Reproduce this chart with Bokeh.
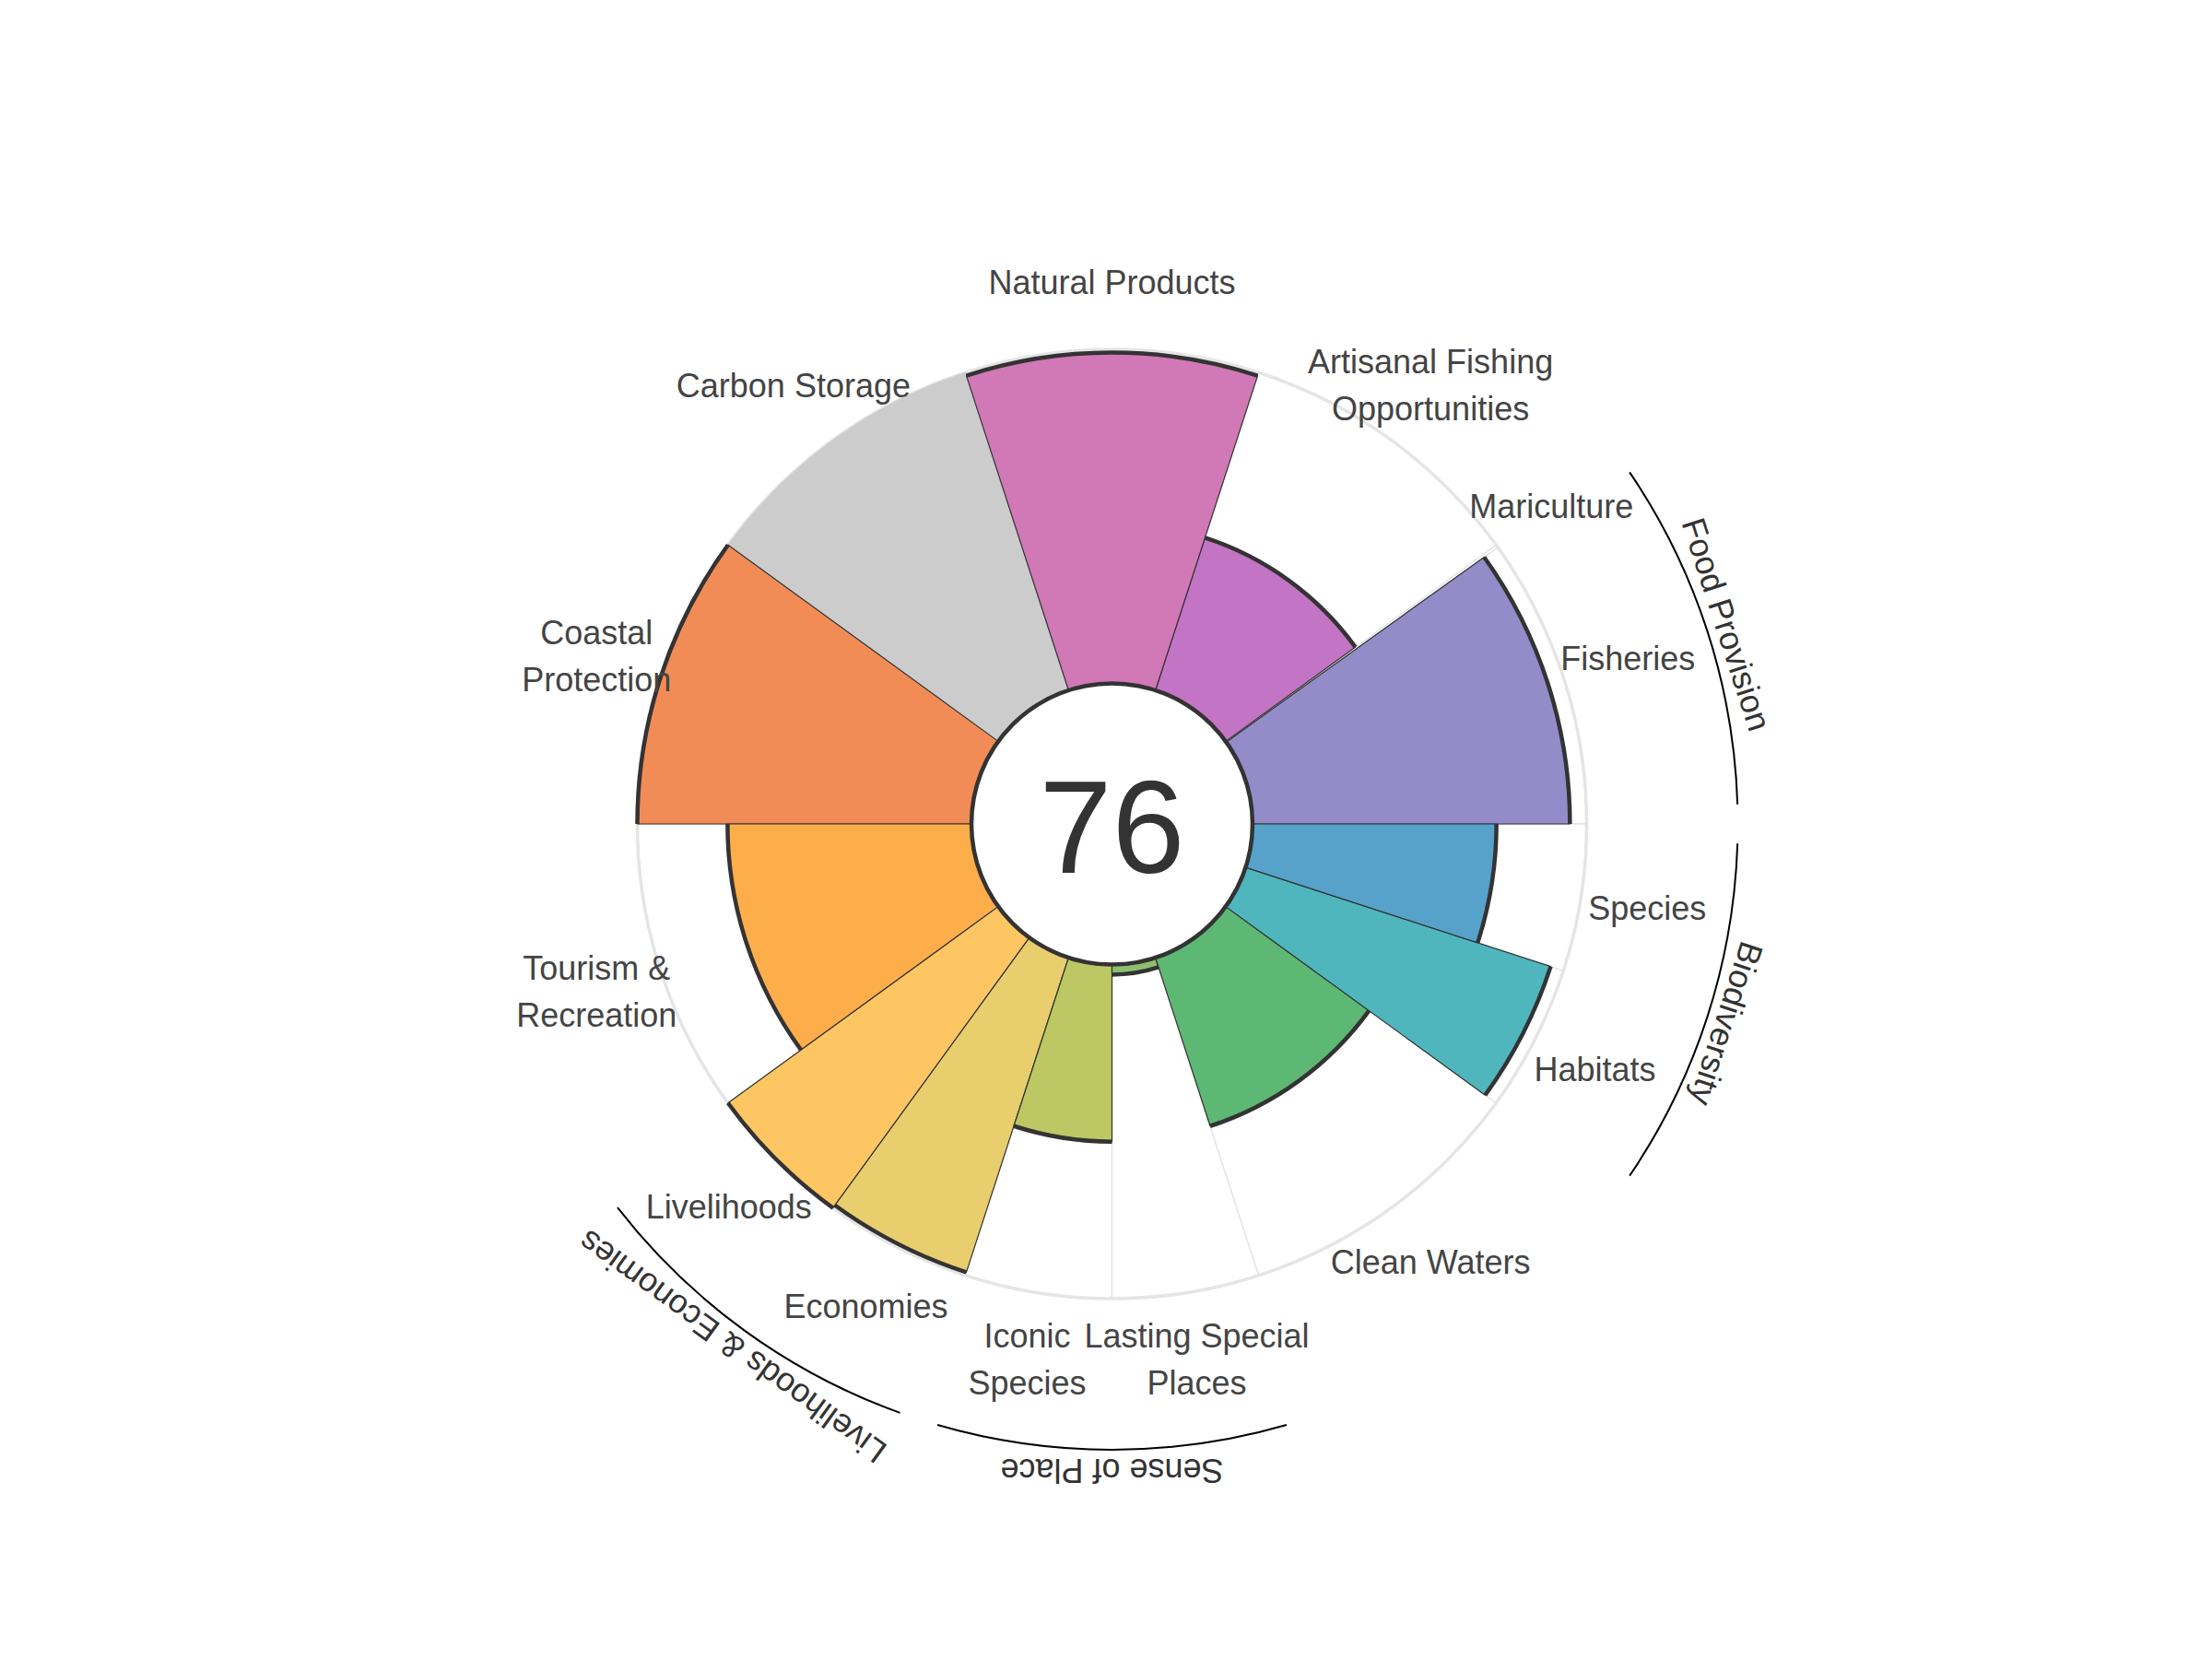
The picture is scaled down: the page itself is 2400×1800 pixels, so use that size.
import numpy as np
from bokeh.plotting import figure
from bokeh.models import Range1d
from bokeh.embed import file_html
from bokeh.resources import INLINE
from bokeh.core.properties import value

# ---------------- data ----------------
goal_labels = [
    "Fisheries", "Mariculture", "Artisanal Fishing\nOpportunities", "Natural Products",
    "Carbon Storage", "Coastal\nProtection", "Tourism &\nRecreation", "Livelihoods",
    "Economies", "Iconic\nSpecies", "Lasting Special\nPlaces", "Clean Waters",
    "Habitats", "Species",
]
goal_scores = [95, 0, 48, 99, None, 100, 73, 100, 99, 53, 3, 53, 96, 73]
goal_weights = [0.99, 0.01, 1, 1, 1, 1, 1, 0.5, 0.5, 0.5, 0.5, 1, 0.5, 0.5]
goal_colors = [
    "#948BC9", "#9D8FCC", "#C474C4", "#D178B7", "#CCCCCC", "#F18C57", "#FDAD4A",
    "#FDC663", "#E9CE6E", "#BDC764", "#8CC06E", "#5DB873", "#4FB6BE", "#57A2CA",
]
group_names = ["Food Provision", "Biodiversity", "Livelihoods & Economies", "Sense of Place"]
group_first = [0, 12, 7, 9]
group_last = [1, 13, 8, 10]
index_score = 76

# ---------------- layout ----------------
W, H = 2384, 1784
CX, CY = 1206.0, H - 893.5
R0, R1 = 152.5, 515.0
R_LABEL = 588.0
R_GROUP_ARC = 679.0
R_GROUP_TXT = 701.0
MARGIN = np.deg2rad(1.8)

def rad(v):
    return R0 + (R1 - R0) * v / 100.0

w = np.array(goal_weights, dtype=float)
cum = np.cumsum(w)
tot = w.sum()
a_start = (cum - w) / tot * 2 * np.pi
a_end = cum / tot * 2 * np.pi
a_mid = (a_start + a_end) / 2

p = figure(width=W, height=H, x_range=Range1d(0, W), y_range=Range1d(0, H),
           output_backend="svg", toolbar_location=None, min_border=0,
           x_axis_type=None, y_axis_type=None)
p.outline_line_color = None
p.background_fill_color = "white"
p.border_fill_color = "white"

n = len(goal_labels)
xs = [CX] * n
ys = [CY] * n

# background petals (full length)
p.annular_wedge(x=xs, y=ys, inner_radius=R0, outer_radius=R1,
                start_angle=list(a_start), end_angle=list(a_end),
                fill_color="white", line_color="#E5E5E5", line_width=1.5)
p.circle(x=[CX], y=[CY], radius=R1, fill_color=None, line_color="#E5E5E5", line_width=3.5)

na_idx = [i for i, s in enumerate(goal_scores) if s is None]
ok_idx = [i for i, s in enumerate(goal_scores) if s is not None]

# NA petals: grey, full length
if na_idx:
    p.annular_wedge(x=[CX] * len(na_idx), y=[CY] * len(na_idx), inner_radius=R0,
                    outer_radius=R1,
                    start_angle=[a_start[i] for i in na_idx],
                    end_angle=[a_end[i] for i in na_idx],
                    fill_color=[goal_colors[i] for i in na_idx],
                    line_color=[goal_colors[i] for i in na_idx], line_width=1)

outer = [rad(goal_scores[i]) for i in ok_idx]
p.annular_wedge(x=[CX] * len(ok_idx), y=[CY] * len(ok_idx), inner_radius=R0,
                outer_radius=outer,
                start_angle=[a_start[i] for i in ok_idx],
                end_angle=[a_end[i] for i in ok_idx],
                fill_color=[goal_colors[i] for i in ok_idx],
                line_color="#333333", line_width=1.2)
p.arc(x=[CX] * len(ok_idx), y=[CY] * len(ok_idx), radius=outer,
      start_angle=[a_start[i] for i in ok_idx],
      end_angle=[a_end[i] for i in ok_idx],
      line_color="#333333", line_width=4.5)

# centre disc
p.circle(x=[CX], y=[CY], radius=R0, fill_color="white", line_color="#333333", line_width=4.5)
p.text(x=[CX], y=[CY - 3], text=[str(index_score)], text_align="center",
       text_baseline="middle", text_font=value("Liberation Sans"),
       text_font_size="142px", text_color="#333333")

# goal labels
lx = [CX + R_LABEL * np.cos(a) for a in a_mid]
ly = [CY + R_LABEL * np.sin(a) for a in a_mid]
p.text(x=lx, y=ly, text=goal_labels, text_align="center", text_baseline="middle",
       text_font=value("Liberation Sans"), text_font_size="36px",
       text_color="#444444", text_line_height=1.25)

# group arcs and labels
g_start = [a_start[i] + MARGIN for i in group_first]
g_end = [a_end[i] - MARGIN for i in group_last]
g_mid = [(s + e) / 2 for s, e in zip(g_start, g_end)]
p.arc(x=[CX] * 4, y=[CY] * 4, radius=R_GROUP_ARC, start_angle=g_start, end_angle=g_end,
      line_color="black", line_width=2)
gx = [CX + R_GROUP_TXT * np.cos(a) for a in g_mid]
gy = [CY + R_GROUP_TXT * np.sin(a) for a in g_mid]
p.text(x=gx, y=gy, text=group_names, angle=[a - np.pi / 2 for a in g_mid],
       text_align="center", text_baseline="middle",
       text_font=value("Liberation Sans"), text_font_size="36px", text_color="#333333")

open("out.html", "w").write(file_html(p, INLINE))
